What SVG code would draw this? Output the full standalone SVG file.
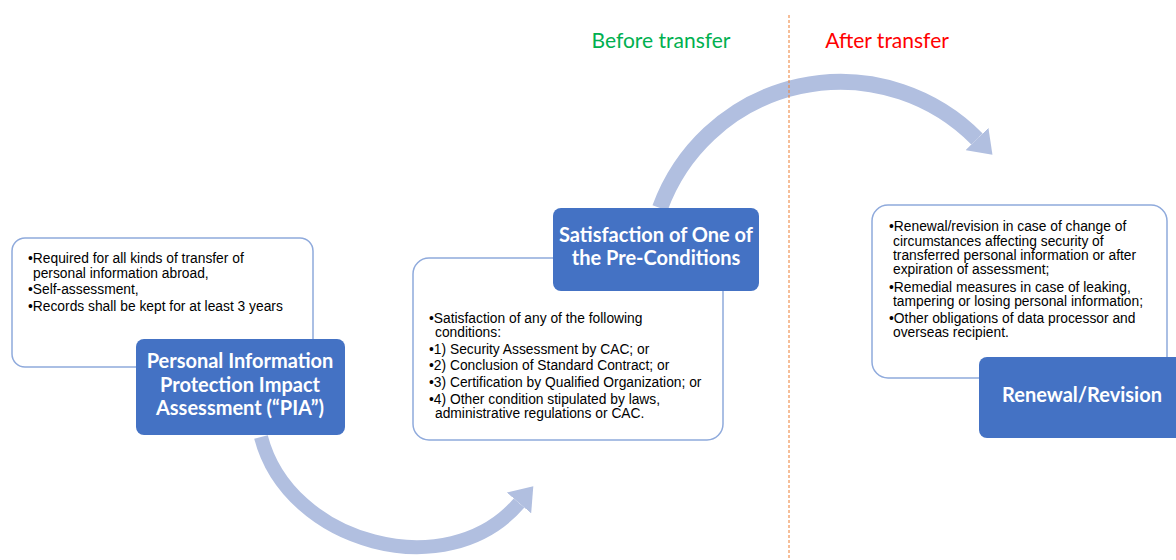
<svg xmlns="http://www.w3.org/2000/svg" width="1176" height="560" viewBox="0 0 1176 560">
<style>
.card{fill:#ffffff;stroke:#8faadc;stroke-width:1.5}
.title{fill:#4472c4}
.body{font-family:"Liberation Sans",Arial,sans-serif;font-size:13.8px;fill:#000000}
.head{font-family:Lato,"Open Sans",sans-serif;font-weight:bold;font-size:20px;fill:#ffffff;text-anchor:middle}
.phase{font-family:Lato,"Open Sans",sans-serif;font-size:21px}
.flow{fill:none;stroke:#b1bfe0}
</style>
<defs>
<marker id="head" markerUnits="userSpaceOnUse" viewBox="0 -16 22 32" refX="0" refY="0" markerWidth="22" markerHeight="32" orient="auto">
<path d="M0,-16 L22,0 L0,16 z" fill="#b1bfe0"/>
</marker>
</defs>
<rect width="1176" height="560" fill="#ffffff"/>
<g id="connectors">
<path class="flow" stroke-width="14" d="M261,437 C288.5,543.7 447.5,586.6 519,503" marker-end="url(#head)"/>
<path class="flow" stroke-width="16" d="M660,208 A192,192 0 0 1 977,139" marker-end="url(#head)"/>
</g>
<line x1="789" y1="15" x2="789" y2="560" stroke="#ed7d31" stroke-width="1" stroke-dasharray="3,2"/>
<g id="phase-labels">
<text class="phase" x="661" y="48" fill="#00b050" text-anchor="middle">Before transfer</text>
<text class="phase" x="887" y="48" fill="#ff0000" text-anchor="middle">After transfer</text>
</g>
<g id="pia-details">
<rect class="card" x="12" y="238" width="301" height="129" rx="13"/>
<text class="body"><tspan x="28" y="263">•Required for all kinds of transfer of</tspan><tspan x="33" y="278">personal information abroad,</tspan><tspan x="28" y="294">•Self-assessment,</tspan><tspan x="28" y="311">•Records shall be kept for at least 3 years</tspan></text>
</g>
<g id="pia">
<rect class="title" x="136" y="339" width="209" height="96" rx="8"/>
<text class="head"><tspan x="240" y="368">Personal Information</tspan><tspan x="240" y="392">Protection Impact</tspan><tspan x="240" y="415">Assessment (“PIA”)</tspan></text>
</g>
<g id="conditions-details">
<rect class="card" x="413" y="258" width="310" height="182" rx="16"/>
<text class="body"><tspan x="429" y="323">•Satisfaction of any of the following</tspan><tspan x="435" y="337">conditions:</tspan><tspan x="429" y="354">•1) Security Assessment by CAC; or</tspan><tspan x="429" y="370">•2) Conclusion of Standard Contract; or</tspan><tspan x="429" y="387">•3) Certification by Qualified Organization; or</tspan><tspan x="429" y="404">•4) Other condition stipulated by laws,</tspan><tspan x="435" y="418">administrative regulations or CAC.</tspan></text>
</g>
<g id="conditions">
<rect class="title" x="553" y="208" width="206" height="83" rx="8"/>
<text class="head"><tspan x="656" y="242">Satisfaction of One of</tspan><tspan x="656" y="265">the Pre-Conditions</tspan></text>
</g>
<g id="renewal-details">
<rect class="card" x="872" y="205" width="295" height="173" rx="16"/>
<text class="body"><tspan x="889" y="231">•Renewal/revision in case of change of</tspan><tspan x="893" y="246">circumstances affecting security of</tspan><tspan x="893" y="260">transferred personal information or after</tspan><tspan x="893" y="274">expiration of assessment;</tspan><tspan x="889" y="292">•Remedial measures in case of leaking,</tspan><tspan x="893" y="306">tampering or losing personal information;</tspan><tspan x="889" y="323">•Other obligations of data processor and</tspan><tspan x="893" y="337">overseas recipient.</tspan></text>
</g>
<g id="renewal">
<rect class="title" x="979" y="357" width="205" height="81" rx="8"/>
<text class="head"><tspan x="1082" y="402">Renewal/Revision</tspan></text>
</g>
</svg>
